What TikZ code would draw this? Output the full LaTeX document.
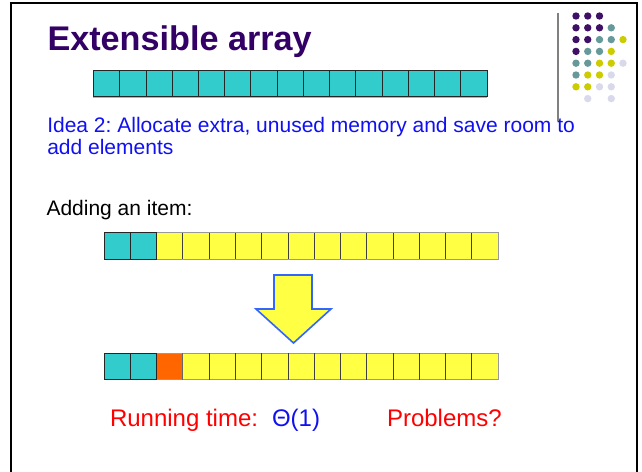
\documentclass[tikz,border=0pt]{standalone}
\usepackage{fontspec}
\setmainfont{Liberation Sans}
\frenchspacing
\definecolor{titlepurple}{RGB}{51,0,102}
\definecolor{cellteal}{RGB}{51,204,204}
\definecolor{cellyellow}{RGB}{255,255,68}
\definecolor{cellorange}{RGB}{255,102,0}
\definecolor{dotP}{RGB}{64,16,102}
\definecolor{dotT}{RGB}{102,153,153}
\definecolor{dotY}{RGB}{204,204,0}
\definecolor{dotL}{RGB}{217,217,235}
\definecolor{arrowblue}{RGB}{51,102,255}
\definecolor{textblue}{RGB}{16,16,240}
\tikzset{
  cell/.style={rectangle, inner sep=0pt, outer sep=0pt, minimum width=26.25pt, minimum height=26.4pt},
  topcell/.style={cell, minimum height=25.3pt, fill=cellteal, draw=black!85, line width=0.8pt},
  tealcell/.style={cell, fill=cellteal, draw=black!85, line width=0.8pt},
  yelcell/.style={cell, fill=cellyellow},
  orcell/.style={cell, fill=cellorange},
  sep/.style={draw=black!75, line width=0.8pt},
  yelframe/.style={draw=black!40, line width=0.8pt},
  txt/.style={anchor=base west, inner sep=0pt, outer sep=0pt},
  dot/.style={circle, inner sep=0pt, minimum size=7.4pt},
}
\begin{document}
\begin{tikzpicture}[x=1pt,y=-1pt]
\useasboundingbox (0,0) rectangle (642,471);
% slide frame
\draw[line width=2pt] (11,472) -- (11,3) -- (637,3) -- (637,472);
% decorative rule and dots
\draw[black!50, line width=1.5pt] (558,13) -- (558,121);
\foreach \r/\k/\c in {0/0/P,0/1/P,0/2/P,
  1/0/P,1/1/P,1/2/P,1/3/T,
  2/0/P,2/1/P,2/2/T,2/3/T,2/4/Y,
  3/0/P,3/1/T,3/2/T,3/3/Y,
  4/0/T,4/1/T,4/2/Y,4/3/Y,4/4/L,
  5/0/T,5/1/Y,5/2/Y,5/3/L,
  6/0/Y,6/1/Y,6/2/L,6/3/L,
  7/1/L,7/3/L}
  \node[dot, fill=dot\c] (d\r\k) at ({576+11.75*\k},{16+11.8*\r}) {};
% title
\node[txt, text=titlepurple, font=\fontsize{34.2}{36}\selectfont\bfseries] (title) at (47.5,50) {Extensible array};
% top array
\foreach \i in {1,...,15}
  \node[topcell] (a\i) at ({93.5+26.23*(\i-0.5)},83.4) {};
\draw[black!30, line width=0.8pt] ([yshift=-1.2pt]a1.south west) -- ([yshift=-1.2pt]a15.south east);
% idea text
\node[txt, text=textblue, font=\fontsize{21}{22}\selectfont] (idea1) at (47.3,132) {Idea 2: Allocate extra, unused memory and save room to};
\node[txt, text=textblue, font=\fontsize{21}{22}\selectfont] (idea2) at (47.3,154) {add elements};
% adding
\node[txt, font=\fontsize{21}{22}\selectfont] (adding) at (46.5,215) {Adding an item:};
% middle array
\foreach \i in {1,...,15}{
  \ifnum\i<3
    \node[tealcell] (m\i) at ({104+26.27*(\i-0.5)},246) {};
  \else
    \node[yelcell] (m\i) at ({104+26.27*(\i-0.5)},246) {};
  \fi
}
\draw[yelframe] (m3.north west) -- (m15.north east) -- (m15.south east) -- (m3.south west);
\foreach \i in {4,...,15}
  \draw[sep] (m\i.north west) -- (m\i.south west);
\draw[black!85, line width=0.8pt] (m1.north west) rectangle (m2.south east);
\draw[black!85, line width=0.8pt] (m1.north east) -- (m1.south east);
% down arrow
\draw[fill=cellyellow, draw=arrowblue, line width=1.6pt, line join=miter]
  (274,275) -- (312,275) -- (312,309) -- (331,309) -- (293.5,343) -- (256,309) -- (274,309) -- cycle;
% bottom array
\foreach \i in {1,...,15}{
  \ifnum\i<3
    \node[tealcell] (b\i) at ({104+26.27*(\i-0.5)},366.3) {};
  \else\ifnum\i=3
    \node[orcell] (b\i) at ({104+26.27*(\i-0.5)},366.3) {};
  \else
    \node[yelcell] (b\i) at ({104+26.27*(\i-0.5)},366.3) {};
  \fi\fi
}
\draw[yelframe] (b3.north west) -- (b15.north east) -- (b15.south east) -- (b3.south west);
\foreach \i in {5,...,15}
  \draw[sep] (b\i.north west) -- (b\i.south west);
\draw[black!85, line width=0.8pt] (b1.north west) rectangle (b2.south east);
\draw[black!85, line width=0.8pt] (b1.north east) -- (b1.south east);
\draw[black!60, line width=0.8pt] (b4.north west) -- (b4.south west);
% bottom texts
\node[txt, text=red, font=\fontsize{24}{26}\selectfont] (rt) at (110,426) {Running time:};
\node[txt, text=textblue, font=\fontsize{24}{26}\selectfont] (theta) at (272,426) {Θ(1)};
\node[txt, text=red, font=\fontsize{24}{26}\selectfont] (prob) at (387,426) {Problems?};
\end{tikzpicture}
\end{document}
